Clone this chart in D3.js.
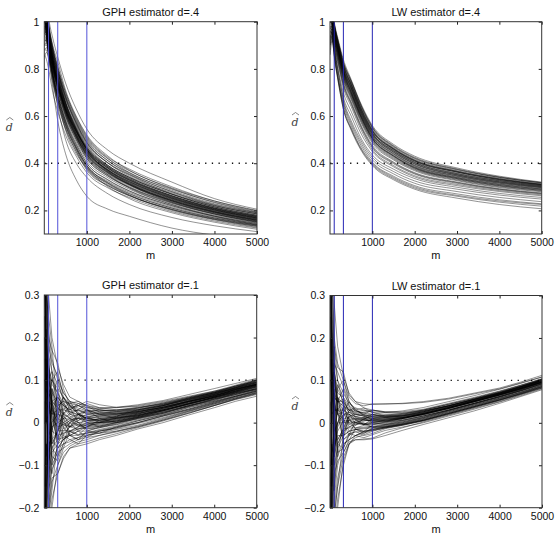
<!DOCTYPE html>
<html><head><meta charset="utf-8">
<script src="https://cdn.jsdelivr.net/npm/d3@7"></script>
<style>body{margin:0;background:#fff}svg{display:block}</style>
</head><body>
<script>
// ---------- DATA ----------
const titles = ["GPH estimator d=.4", "LW estimator d=.4", "GPH estimator d=.1", "LW estimator d=.1"];
const trueD = [0.4, 0.4, 0.1, 0.1];
const bandwidths = [100, 316, 1000];
const xTicks = [1000, 2000, 3000, 4000, 5000];
const yTicksTop = [0.2, 0.4, 0.6, 0.8, 1];
const yTicksBottom = [-0.2, -0.1, 0, 0.1, 0.2, 0.3];
const yDomainTop = [0.1, 1];
const yDomainBottom = [-0.2, 0.3];
const xDomain = [0, 5000];

const mKnots4 = [5, 50, 100, 200, 316, 500, 750, 1000, 1500, 2000, 3000, 4000, 5000];
const mKnots1 = [5, 40, 100, 180, 316, 450, 600, 800, 1000, 1300, 1700, 2200, 2800, 3400, 4000, 4500, 5000];

const gph4 = [
[1.40,1.10,1.02,0.93,0.85,0.74,0.63,0.545,0.455,0.40,0.32,0.25,0.205],
[1.34,1.08,1.00,0.90,0.83,0.71,0.60,0.52,0.43,0.37,0.295,0.24,0.20],
[1.30,1.07,0.99,0.89,0.81,0.70,0.59,0.51,0.42,0.36,0.29,0.235,0.195],
[1.28,1.05,0.98,0.88,0.80,0.68,0.575,0.495,0.41,0.355,0.28,0.225,0.19],
[1.10,1.02,0.97,0.87,0.79,0.68,0.57,0.49,0.40,0.345,0.275,0.22,0.185],
[1.25,1.04,0.96,0.86,0.78,0.67,0.565,0.485,0.40,0.35,0.27,0.215,0.18],
[1.22,1.03,0.955,0.855,0.775,0.66,0.56,0.48,0.39,0.34,0.268,0.215,0.178],
[1.18,1.02,0.95,0.85,0.77,0.655,0.55,0.47,0.385,0.335,0.262,0.21,0.175],
[1.05,1.01,0.945,0.845,0.76,0.65,0.545,0.465,0.38,0.33,0.258,0.207,0.172],
[1.16,1.00,0.94,0.84,0.755,0.645,0.54,0.46,0.378,0.328,0.256,0.205,0.17],
[1.20,1.00,0.935,0.835,0.75,0.64,0.535,0.455,0.374,0.324,0.252,0.202,0.168],
[1.12,0.99,0.93,0.83,0.745,0.635,0.53,0.45,0.37,0.32,0.25,0.20,0.165],
[1.08,0.98,0.925,0.825,0.74,0.63,0.525,0.445,0.366,0.316,0.247,0.197,0.163],
[1.14,0.99,0.92,0.82,0.735,0.625,0.52,0.44,0.362,0.312,0.244,0.195,0.16],
[0.98,0.97,0.915,0.815,0.73,0.62,0.515,0.435,0.358,0.308,0.24,0.192,0.158],
[1.10,0.96,0.91,0.81,0.72,0.61,0.51,0.43,0.354,0.305,0.237,0.19,0.155],
[1.02,0.95,0.90,0.80,0.715,0.605,0.505,0.425,0.35,0.30,0.234,0.187,0.153],
[0.95,0.94,0.895,0.795,0.71,0.60,0.50,0.42,0.345,0.296,0.23,0.184,0.15],
[1.06,0.93,0.89,0.79,0.70,0.59,0.49,0.41,0.338,0.29,0.225,0.18,0.147],
[0.92,0.92,0.88,0.78,0.69,0.58,0.48,0.40,0.33,0.283,0.22,0.176,0.143],
[0.90,0.90,0.87,0.77,0.68,0.57,0.47,0.39,0.322,0.277,0.215,0.172,0.14],
[0.88,0.89,0.86,0.76,0.67,0.56,0.46,0.38,0.315,0.27,0.21,0.168,0.137],
[0.85,0.87,0.85,0.75,0.66,0.55,0.45,0.37,0.305,0.262,0.204,0.163,0.133],
[1.24,1.05,0.97,0.86,0.77,0.65,0.54,0.455,0.37,0.315,0.24,0.19,0.155],
[1.30,1.06,0.98,0.88,0.79,0.66,0.545,0.46,0.365,0.31,0.235,0.185,0.15],
[0.96,0.95,0.90,0.81,0.73,0.63,0.535,0.46,0.385,0.335,0.262,0.21,0.175],
[0.90,0.93,0.89,0.80,0.725,0.625,0.535,0.465,0.39,0.34,0.268,0.215,0.18],
[1.04,0.97,0.93,0.84,0.76,0.655,0.555,0.475,0.39,0.34,0.27,0.22,0.185],
[1.00,0.95,0.86,0.72,0.58,0.44,0.33,0.26,0.205,0.175,0.125,0.095,0.075],
[1.02,0.96,0.88,0.76,0.64,0.50,0.40,0.34,0.27,0.225,0.17,0.135,0.11],
[1.06,0.98,0.90,0.78,0.67,0.54,0.44,0.38,0.30,0.25,0.19,0.15,0.12],
[0.86,0.84,0.80,0.70,0.62,0.52,0.43,0.36,0.295,0.255,0.195,0.155,0.125],
[0.94,0.92,0.87,0.77,0.68,0.565,0.465,0.39,0.315,0.265,0.20,0.16,0.128],
[1.12,1.00,0.94,0.83,0.74,0.615,0.51,0.43,0.35,0.295,0.225,0.175,0.14],
[1.18,1.01,0.935,0.835,0.745,0.635,0.532,0.452,0.372,0.322,0.252,0.202,0.167],
[1.09,0.99,0.925,0.83,0.74,0.628,0.526,0.447,0.368,0.318,0.248,0.199,0.164],
[1.21,1.02,0.945,0.84,0.75,0.64,0.538,0.458,0.378,0.327,0.256,0.205,0.17],
[1.01,0.98,0.92,0.82,0.732,0.622,0.52,0.442,0.363,0.313,0.244,0.195,0.161],
[1.15,1.00,0.93,0.826,0.738,0.626,0.524,0.448,0.37,0.322,0.253,0.203,0.168],
[1.27,1.04,0.96,0.855,0.765,0.652,0.548,0.468,0.384,0.332,0.26,0.208,0.173],
[0.97,0.96,0.905,0.81,0.722,0.615,0.512,0.436,0.358,0.309,0.241,0.193,0.158],
[1.07,0.97,0.91,0.812,0.726,0.614,0.515,0.438,0.36,0.31,0.242,0.194,0.159],
[1.30,1.07,0.99,0.89,0.81,0.70,0.595,0.515,0.425,0.375,0.30,0.24,0.198],
[1.20,1.05,0.975,0.88,0.80,0.69,0.585,0.505,0.418,0.368,0.292,0.233,0.192],
[1.00,1.02,0.96,0.87,0.79,0.685,0.58,0.50,0.41,0.36,0.285,0.228,0.19],
[1.15,1.01,0.95,0.86,0.785,0.675,0.57,0.488,0.402,0.352,0.279,0.222,0.186],
[0.95,0.96,0.92,0.83,0.75,0.64,0.54,0.46,0.38,0.33,0.262,0.21,0.176],
[1.10,0.95,0.90,0.80,0.71,0.60,0.50,0.42,0.345,0.298,0.232,0.185,0.152],
[0.90,0.91,0.87,0.775,0.69,0.58,0.48,0.40,0.328,0.282,0.22,0.176,0.145],
[1.05,0.94,0.88,0.78,0.69,0.575,0.47,0.39,0.318,0.272,0.21,0.168,0.138],
[0.88,0.88,0.84,0.74,0.65,0.545,0.45,0.375,0.305,0.262,0.203,0.162,0.132],
[0.98,0.93,0.87,0.765,0.67,0.56,0.46,0.385,0.31,0.265,0.205,0.165,0.135]
];

const lw4 = [
[1.35,1.06,1.00,0.92,0.84,0.755,0.645,0.56,0.48,0.43,0.38,0.345,0.32],
[1.32,1.05,0.99,0.91,0.83,0.75,0.64,0.555,0.475,0.425,0.376,0.342,0.318],
[1.30,1.05,0.99,0.91,0.825,0.745,0.635,0.55,0.47,0.42,0.372,0.34,0.316],
[1.28,1.04,0.985,0.905,0.82,0.74,0.63,0.545,0.466,0.416,0.368,0.336,0.313],
[1.25,1.04,0.98,0.90,0.815,0.735,0.625,0.54,0.462,0.412,0.365,0.333,0.31],
[1.22,1.03,0.975,0.895,0.81,0.73,0.62,0.535,0.458,0.408,0.362,0.33,0.308],
[1.20,1.03,0.97,0.89,0.805,0.725,0.615,0.53,0.455,0.405,0.358,0.327,0.306],
[1.18,1.02,0.965,0.885,0.80,0.72,0.61,0.527,0.452,0.402,0.355,0.325,0.304],
[1.15,1.02,0.96,0.88,0.795,0.715,0.606,0.524,0.449,0.399,0.352,0.322,0.302],
[1.12,1.01,0.955,0.875,0.79,0.71,0.602,0.52,0.446,0.396,0.35,0.32,0.30],
[1.10,1.01,0.95,0.87,0.785,0.705,0.598,0.516,0.442,0.392,0.347,0.318,0.298],
[1.08,1.00,0.945,0.865,0.78,0.70,0.594,0.512,0.438,0.388,0.344,0.315,0.296],
[1.05,1.00,0.94,0.86,0.775,0.695,0.59,0.508,0.434,0.385,0.341,0.312,0.293],
[1.03,0.99,0.935,0.855,0.77,0.69,0.585,0.504,0.43,0.381,0.338,0.309,0.29],
[1.00,0.99,0.93,0.85,0.765,0.685,0.58,0.50,0.426,0.378,0.335,0.306,0.288],
[0.98,0.98,0.925,0.845,0.76,0.68,0.576,0.496,0.422,0.375,0.332,0.303,0.285],
[1.26,1.04,0.97,0.88,0.79,0.70,0.59,0.505,0.43,0.38,0.335,0.305,0.285],
[0.95,0.97,0.94,0.87,0.795,0.72,0.615,0.535,0.46,0.41,0.363,0.331,0.309],
[0.93,0.97,0.92,0.84,0.75,0.67,0.566,0.486,0.414,0.368,0.326,0.297,0.279],
[0.92,0.96,0.91,0.83,0.74,0.66,0.555,0.476,0.405,0.36,0.32,0.292,0.274],
[0.90,0.95,0.90,0.82,0.73,0.65,0.545,0.466,0.398,0.354,0.315,0.288,0.27],
[0.88,0.94,0.89,0.81,0.72,0.64,0.535,0.458,0.39,0.347,0.31,0.284,0.266],
[0.96,0.95,0.88,0.78,0.68,0.60,0.50,0.435,0.375,0.335,0.298,0.272,0.255],
[1.10,0.98,0.90,0.78,0.67,0.58,0.49,0.425,0.365,0.325,0.29,0.265,0.248],
[1.02,0.96,0.88,0.76,0.66,0.57,0.48,0.415,0.355,0.315,0.28,0.255,0.237],
[0.86,0.92,0.86,0.75,0.65,0.56,0.47,0.405,0.345,0.305,0.27,0.245,0.228],
[0.94,0.93,0.85,0.74,0.63,0.545,0.455,0.395,0.335,0.295,0.26,0.235,0.218],
[1.06,0.96,0.87,0.75,0.64,0.55,0.46,0.40,0.34,0.30,0.264,0.24,0.225],
[0.90,0.93,0.88,0.79,0.70,0.62,0.52,0.45,0.385,0.342,0.305,0.28,0.262],
[0.98,0.94,0.86,0.74,0.63,0.54,0.45,0.39,0.33,0.29,0.252,0.225,0.207],
[1.24,1.035,0.978,0.898,0.812,0.732,0.622,0.537,0.46,0.41,0.363,0.331,0.309],
[1.16,1.025,0.968,0.888,0.802,0.722,0.612,0.528,0.453,0.403,0.356,0.326,0.305],
[1.06,1.005,0.948,0.868,0.782,0.702,0.596,0.514,0.44,0.39,0.346,0.316,0.297],
[1.33,1.05,0.992,0.912,0.828,0.748,0.638,0.552,0.472,0.422,0.374,0.34,0.317],
[1.14,1.015,0.958,0.878,0.792,0.712,0.604,0.522,0.447,0.397,0.351,0.321,0.301],
[1.02,0.995,0.938,0.858,0.772,0.692,0.587,0.506,0.432,0.383,0.339,0.31,0.291],
[0.97,0.975,0.922,0.842,0.756,0.676,0.572,0.492,0.418,0.372,0.329,0.30,0.282],
[0.91,0.955,0.905,0.825,0.735,0.655,0.55,0.47,0.402,0.357,0.318,0.29,0.272],
[1.29,1.045,0.985,0.90,0.815,0.735,0.626,0.541,0.463,0.413,0.366,0.334,0.311]
];

const gph1 = [
[0.55,0.28,0.16,0.12,0.09,0.056,0.042,0.034,0.028,0.026,0.029,0.035,0.046,0.06,0.072,0.086,0.096],
[-0.5,-0.27,-0.16,-0.11,-0.08,-0.05,-0.04,-0.035,-0.03,-0.024,-0.016,-0.006,0.01,0.027,0.044,0.058,0.071],
[0.3,0.18,0.1,0.07,0.05,0.04,0.03,0.028,0.022,0.022,0.025,0.032,0.043,0.057,0.07,0.081,0.093],
[-0.3,-0.16,-0.09,-0.06,-0.04,-0.035,-0.03,-0.02,-0.02,-0.012,-0.005,0.006,0.02,0.035,0.05,0.064,0.076],
[0.7,0.35,0.22,0.15,0.1,0.07,0.05,0.04,0.035,0.033,0.036,0.042,0.052,0.066,0.08,0.092,0.104],
[-0.7,-0.36,-0.22,-0.14,-0.1,-0.07,-0.055,-0.045,-0.04,-0.03,-0.02,-0.01,0.006,0.022,0.04,0.054,0.066],
[0.1,0.05,0.03,0.02,0.02,0.01,0.008,0.01,0.006,0.01,0.014,0.024,0.036,0.05,0.066,0.078,0.09],
[-0.1,-0.06,-0.03,-0.01,0.0,-0.005,-0.01,-0.006,-0.008,-0.002,0.004,0.014,0.028,0.042,0.058,0.07,0.082],
[0.2,0.12,0.07,0.05,0.035,0.02,0.012,0.02,0.014,0.016,0.02,0.028,0.04,0.054,0.066,0.08,0.09],
[-0.2,-0.12,-0.07,-0.04,-0.02,-0.018,-0.02,-0.015,-0.012,-0.008,0.0,0.012,0.024,0.04,0.055,0.068,0.08],
[0.45,0.22,0.12,0.09,0.07,0.045,0.025,0.018,0.01,0.004,0.008,0.016,0.028,0.044,0.06,0.074,0.086],
[-0.45,-0.2,-0.12,-0.07,-0.05,-0.025,-0.01,0.0,0.004,0.008,0.014,0.022,0.034,0.048,0.062,0.075,0.088],
[0.0,0.08,0.05,0.04,0.06,0.04,0.02,0.01,0.0,0.0,0.006,0.016,0.03,0.046,0.06,0.072,0.084],
[0.0,-0.08,-0.05,-0.04,-0.06,-0.04,-0.025,-0.015,-0.005,0.002,0.01,0.02,0.032,0.048,0.064,0.078,0.09],
[0.6,0.3,0.18,0.14,0.11,0.07,0.05,0.045,0.04,0.035,0.035,0.04,0.05,0.062,0.074,0.085,0.098],
[-0.6,-0.3,-0.2,-0.13,-0.12,-0.085,-0.06,-0.055,-0.05,-0.04,-0.03,-0.015,0.0,0.018,0.035,0.05,0.062],
[0.15,0.1,0.05,0.01,-0.01,-0.005,0.005,0.01,0.012,0.012,0.016,0.026,0.038,0.052,0.068,0.082,0.094],
[-0.15,-0.1,-0.04,0.0,0.02,0.015,0.0,-0.005,-0.004,0.0,0.006,0.016,0.03,0.044,0.058,0.072,0.085],
[0.35,0.2,0.13,0.1,0.08,0.06,0.045,0.04,0.03,0.028,0.03,0.036,0.044,0.058,0.072,0.083,0.095],
[-0.35,-0.22,-0.14,-0.09,-0.06,-0.04,-0.03,-0.03,-0.025,-0.018,-0.01,0.0,0.015,0.03,0.046,0.06,0.074],
[0.05,0.0,0.02,0.03,0.01,0.0,-0.01,-0.015,-0.01,-0.006,0.002,0.012,0.026,0.04,0.056,0.068,0.08],
[0.25,0.15,0.08,0.03,0.0,0.01,0.02,0.015,0.018,0.018,0.022,0.03,0.04,0.055,0.068,0.079,0.091],
[-0.25,-0.14,-0.06,-0.02,0.03,0.03,0.025,0.02,0.01,0.006,0.01,0.018,0.03,0.045,0.06,0.073,0.086],
[0.4,0.18,0.06,-0.02,-0.03,-0.025,-0.02,-0.01,-0.006,-0.004,0.004,0.014,0.028,0.043,0.058,0.071,0.083],
[-0.4,-0.18,-0.08,-0.02,0.04,0.05,0.04,0.03,0.025,0.02,0.02,0.026,0.036,0.05,0.064,0.077,0.089],
[0.8,0.4,0.2,0.17,0.14,0.08,0.04,0.02,0.01,0.006,0.01,0.018,0.03,0.045,0.06,0.074,0.087],
[-0.8,-0.42,-0.25,-0.18,-0.12,-0.08,-0.06,-0.05,-0.045,-0.036,-0.026,-0.012,0.004,0.022,0.04,0.055,0.068],
[0.1,0.02,-0.03,-0.05,-0.02,0.0,0.01,0.0,-0.002,0.002,0.008,0.018,0.03,0.044,0.06,0.072,0.085],
[0.5,0.1,0.15,0.05,-0.02,0.03,0.05,0.02,0.03,0.01,0.0,0.01,0.025,0.04,0.052,0.07,0.08],
[-0.5,-0.05,-0.12,0.02,0.05,0.01,-0.03,-0.04,-0.02,-0.025,-0.01,0.004,0.018,0.036,0.05,0.062,0.076],
[0.3,0.25,0.05,0.1,0.07,0.02,-0.01,0.01,0.03,0.02,0.01,0.02,0.038,0.05,0.062,0.078,0.092],
[-0.3,-0.2,0.05,-0.08,-0.09,-0.05,0.0,0.02,0.0,-0.01,0.0,0.008,0.022,0.038,0.055,0.066,0.08],
[0.9,0.2,-0.1,0.08,0.0,-0.04,-0.03,-0.04,-0.035,-0.02,-0.012,0.0,0.016,0.03,0.046,0.061,0.072],
[-0.9,0.1,0.12,0.03,0.06,0.04,0.03,0.045,0.035,0.03,0.024,0.028,0.04,0.053,0.067,0.082,0.1],
[0.2,-0.15,0.08,0.06,-0.04,0.02,0.01,-0.01,0.015,0.0,0.012,0.016,0.034,0.046,0.064,0.074,0.088],
[0.6,0.3,0.25,0.18,0.02,0.06,0.035,0.0,-0.02,-0.01,-0.004,0.01,0.022,0.04,0.056,0.069,0.078],
[-0.6,-0.3,-0.2,-0.1,-0.07,-0.06,-0.02,-0.03,-0.01,0.006,0.015,0.03,0.042,0.056,0.07,0.08,0.094],
[0.0,0.15,-0.15,-0.02,0.08,0.02,0.04,0.02,0.008,0.015,0.018,0.022,0.032,0.05,0.062,0.076,0.09],
[0.65,-0.1,0.2,0.12,0.04,0.05,0.045,0.05,0.04,0.03,0.028,0.034,0.044,0.056,0.07,0.084,0.098],
[-0.65,0.15,-0.18,-0.06,-0.02,0.02,0.035,0.04,0.05,0.042,0.036,0.038,0.048,0.06,0.074,0.088,0.102],
[0.4,0.3,-0.05,0.06,0.1,0.05,0.02,0.03,0.045,0.035,0.03,0.03,0.04,0.058,0.07,0.086,0.1],
[-0.4,-0.3,0.1,-0.1,0.02,-0.03,-0.01,0.02,0.025,0.03,0.026,0.03,0.042,0.054,0.068,0.082,0.096],
[1.0,0.5,0.3,0.2,0.13,0.09,0.06,0.05,0.038,0.025,0.022,0.026,0.036,0.05,0.064,0.077,0.09],
[-1.0,-0.5,-0.3,-0.2,-0.1,-0.06,-0.05,-0.04,-0.03,-0.02,-0.014,-0.002,0.012,0.028,0.044,0.058,0.07],
[0.2,0.1,0.16,0.02,-0.05,-0.04,-0.02,-0.028,-0.024,-0.016,-0.008,0.004,0.018,0.032,0.048,0.062,0.074],
[-0.2,-0.05,-0.1,0.08,0.03,-0.015,0.0,0.012,0.005,0.0,0.004,0.012,0.024,0.038,0.052,0.066,0.078],
[0.7,0.12,0.0,-0.06,-0.08,-0.03,-0.04,-0.05,-0.03,-0.025,-0.02,-0.008,0.008,0.026,0.042,0.056,0.068],
[-0.7,-0.2,0.0,0.1,0.12,0.06,0.03,0.04,0.03,0.02,0.02,0.026,0.036,0.052,0.066,0.079,0.092],
[0.35,0.05,-0.08,0.0,0.04,0.0,-0.02,-0.01,0.0,0.01,0.012,0.02,0.034,0.05,0.063,0.078,0.09],
[-0.35,0.05,0.08,-0.05,-0.02,0.025,0.01,0.0,-0.015,-0.012,-0.002,0.01,0.022,0.038,0.054,0.066,0.078],
[0.5,0.35,0.12,-0.04,0.02,0.035,0.015,0.005,0.02,0.024,0.02,0.024,0.036,0.05,0.066,0.081,0.094],
[-0.5,-0.35,-0.15,0.05,-0.04,-0.02,0.0,-0.02,-0.035,-0.03,-0.022,-0.01,0.006,0.024,0.04,0.056,0.07],
[0.1,0.22,0.1,0.12,0.0,0.045,0.025,0.03,0.02,0.015,0.016,0.024,0.04,0.055,0.07,0.083,0.096],
[-0.1,-0.25,-0.06,-0.12,-0.05,-0.01,-0.03,-0.02,-0.01,0.0,0.002,0.014,0.028,0.044,0.058,0.07,0.084],
[0.85,0.45,0.1,0.05,0.06,-0.01,0.005,-0.005,-0.015,-0.008,0.0,0.012,0.028,0.044,0.06,0.074,0.088],
[-0.85,-0.45,-0.22,-0.16,-0.04,0.01,-0.01,0.005,0.012,0.02,0.026,0.034,0.046,0.058,0.072,0.086,0.1],
[0.25,0.0,0.14,0.02,0.03,0.06,0.04,0.025,0.005,0.005,0.012,0.022,0.034,0.048,0.062,0.076,0.088],
[-0.25,0.2,-0.02,0.04,-0.06,-0.05,-0.045,-0.035,-0.025,-0.02,-0.012,0.0,0.016,0.032,0.048,0.062,0.074]
];

const lw1 = [
[0.5,0.28,0.15,0.1,0.07,0.045,0.035,0.03,0.026,0.024,0.028,0.036,0.05,0.064,0.079,0.093,0.108],
[-0.5,-0.28,-0.15,-0.08,-0.04,-0.025,-0.022,-0.02,-0.018,-0.012,-0.004,0.006,0.022,0.038,0.054,0.068,0.084],
[0.3,0.16,0.09,0.06,0.045,0.03,0.02,0.018,0.016,0.016,0.02,0.03,0.044,0.058,0.074,0.088,0.103],
[-0.3,-0.16,-0.08,-0.04,-0.015,-0.012,-0.012,-0.01,-0.008,-0.004,0.002,0.012,0.028,0.044,0.06,0.075,0.09],
[0.7,0.4,0.2,0.14,0.1,0.06,0.045,0.04,0.045,0.044,0.046,0.05,0.058,0.07,0.082,0.096,0.112],
[-0.7,-0.4,-0.22,-0.15,-0.08,-0.05,-0.04,-0.038,-0.036,-0.024,-0.012,0.002,0.018,0.034,0.05,0.066,0.082],
[0.1,0.06,0.03,0.03,0.03,0.02,0.01,0.008,0.006,0.008,0.012,0.022,0.036,0.052,0.068,0.082,0.098],
[-0.1,-0.06,-0.02,0.0,0.0,0.0,0.0,-0.002,0.0,0.002,0.008,0.018,0.032,0.048,0.064,0.078,0.094],
[0.2,0.12,0.07,0.05,0.04,0.025,0.015,0.012,0.01,0.012,0.016,0.026,0.04,0.055,0.071,0.085,0.1],
[-0.2,-0.12,-0.06,-0.02,0.005,0.005,0.0,-0.004,-0.004,-0.002,0.005,0.016,0.03,0.046,0.062,0.076,0.092],
[0.45,0.25,0.12,0.08,0.05,0.03,0.012,0.006,0.004,0.004,0.01,0.02,0.035,0.05,0.066,0.081,0.096],
[-0.45,-0.25,-0.12,-0.05,-0.02,-0.01,-0.004,-0.002,0.002,0.004,0.01,0.02,0.034,0.05,0.066,0.08,0.096],
[0.0,0.1,0.06,0.05,0.055,0.035,0.022,0.015,0.01,0.008,0.012,0.022,0.036,0.052,0.068,0.082,0.098],
[0.0,-0.1,-0.06,-0.03,-0.03,-0.02,-0.015,-0.012,-0.01,-0.006,0.0,0.01,0.026,0.042,0.058,0.072,0.088],
[0.6,0.34,0.18,0.13,0.12,0.065,0.05,0.045,0.043,0.045,0.045,0.048,0.056,0.068,0.08,0.094,0.108],
[-0.6,-0.35,-0.2,-0.13,-0.07,-0.045,-0.04,-0.04,-0.038,-0.03,-0.018,-0.004,0.012,0.028,0.046,0.062,0.078],
[0.15,0.08,0.04,0.02,0.01,0.012,0.008,0.006,0.005,0.006,0.011,0.021,0.036,0.051,0.067,0.081,0.097],
[-0.15,-0.08,-0.03,0.0,0.02,0.02,0.014,0.01,0.008,0.009,0.014,0.024,0.038,0.053,0.069,0.083,0.099],
[0.35,0.2,0.11,0.07,0.06,0.04,0.028,0.022,0.018,0.018,0.022,0.03,0.043,0.057,0.072,0.086,0.101],
[-0.35,-0.2,-0.1,-0.06,-0.03,-0.02,-0.016,-0.014,-0.012,-0.008,-0.002,0.008,0.024,0.04,0.056,0.071,0.086],
[0.05,0.02,0.03,0.03,0.02,0.01,0.0,-0.004,-0.002,0.0,0.006,0.016,0.03,0.046,0.062,0.076,0.092],
[0.25,0.12,0.05,0.02,0.0,0.005,0.01,0.012,0.012,0.014,0.018,0.028,0.041,0.056,0.072,0.086,0.102],
[-0.25,-0.14,-0.06,-0.01,0.02,0.025,0.02,0.016,0.014,0.013,0.017,0.026,0.04,0.055,0.07,0.084,0.1],
[-0.4,-0.22,-0.12,-0.09,-0.07,-0.04,-0.03,-0.022,-0.016,-0.01,-0.003,0.008,0.024,0.04,0.057,0.072,0.088],
[0.4,0.22,0.14,0.12,0.085,0.05,0.03,0.02,0.014,0.01,0.012,0.02,0.034,0.05,0.066,0.08,0.095],
[-0.8,-0.45,-0.25,-0.18,-0.1,-0.05,-0.03,-0.02,-0.015,-0.01,-0.004,0.006,0.022,0.038,0.055,0.07,0.086],
[0.5,0.1,0.12,0.06,0.0,0.03,0.035,0.015,0.02,0.012,0.012,0.02,0.034,0.05,0.065,0.079,0.095],
[-0.5,-0.05,-0.1,0.0,0.04,0.01,-0.015,-0.025,-0.012,-0.01,-0.002,0.01,0.026,0.042,0.058,0.073,0.089],
[0.3,0.22,0.04,0.09,0.06,0.02,0.0,0.008,0.02,0.014,0.014,0.024,0.038,0.053,0.069,0.084,0.1],
[-0.3,-0.2,0.04,-0.07,-0.06,-0.03,0.005,0.012,0.0,-0.004,0.004,0.014,0.03,0.046,0.062,0.078,0.094],
[0.9,0.2,-0.08,0.06,0.0,-0.03,-0.02,-0.03,-0.025,-0.014,-0.006,0.005,0.02,0.036,0.053,0.068,0.083],
[-0.9,0.1,0.1,0.03,0.05,0.03,0.025,0.03,0.024,0.02,0.02,0.028,0.04,0.055,0.07,0.085,0.102],
[0.2,-0.15,0.06,0.05,-0.03,0.015,0.008,-0.005,0.01,0.004,0.01,0.02,0.034,0.05,0.066,0.08,0.096],
[-0.6,-0.3,-0.18,-0.1,-0.05,-0.04,-0.015,-0.02,-0.005,0.002,0.01,0.022,0.036,0.052,0.068,0.083,0.099],
[0.65,-0.1,0.18,0.1,0.04,0.03,0.03,0.035,0.03,0.026,0.026,0.032,0.046,0.06,0.075,0.089,0.104],
[-0.65,0.15,-0.16,-0.05,-0.02,0.015,0.02,0.025,0.03,0.026,0.024,0.03,0.044,0.058,0.073,0.088,0.103],
[0.4,0.3,-0.05,0.05,0.08,0.04,0.015,0.02,0.03,0.024,0.022,0.028,0.04,0.055,0.07,0.085,0.1],
[-0.4,-0.3,0.08,-0.08,0.01,-0.02,-0.005,0.01,0.015,0.016,0.016,0.024,0.038,0.052,0.068,0.082,0.097],
[1.0,0.5,0.28,0.18,0.11,0.07,0.05,0.035,0.025,0.016,0.016,0.022,0.035,0.05,0.066,0.08,0.095],
[-1.0,-0.5,-0.3,-0.2,-0.09,-0.05,-0.035,-0.028,-0.02,-0.012,-0.006,0.004,0.02,0.036,0.052,0.067,0.082],
[0.2,0.1,0.14,0.02,-0.04,-0.03,-0.015,-0.02,-0.016,-0.01,-0.004,0.006,0.022,0.038,0.054,0.069,0.085],
[-0.2,-0.05,-0.08,0.06,0.025,-0.01,0.0,0.008,0.004,0.002,0.006,0.016,0.03,0.046,0.062,0.077,0.093],
[0.7,0.12,0.0,-0.05,-0.06,-0.025,-0.03,-0.035,-0.028,-0.018,-0.01,0.0,0.016,0.032,0.049,0.064,0.08],
[-0.7,-0.2,0.0,0.08,0.1,0.05,0.025,0.025,0.02,0.016,0.018,0.026,0.04,0.055,0.07,0.085,0.1],
[0.35,0.05,-0.07,0.0,0.035,0.0,-0.012,-0.006,0.0,0.006,0.01,0.02,0.034,0.05,0.065,0.08,0.096],
[-0.35,0.05,0.07,-0.04,-0.015,0.02,0.008,0.0,-0.01,-0.008,0.0,0.012,0.028,0.044,0.06,0.075,0.091],
[0.85,0.45,0.1,0.05,0.05,-0.005,0.005,-0.004,-0.01,-0.005,0.002,0.013,0.029,0.045,0.061,0.076,0.092],
[-0.85,-0.45,-0.22,-0.15,-0.035,0.008,-0.006,0.004,0.008,0.012,0.016,0.026,0.04,0.055,0.071,0.086,0.102],
[0.25,0.0,0.12,0.02,0.025,0.05,0.03,0.018,0.006,0.006,0.012,0.022,0.036,0.052,0.067,0.082,0.098],
[-0.25,0.2,-0.02,0.035,-0.05,-0.04,-0.03,-0.024,-0.018,-0.012,-0.005,0.006,0.022,0.038,0.054,0.069,0.085]
];

// ---------- LAYOUT ----------
const W = 560, H = 535;
const panels = [
  {curves: gph4, knots: mKnots4, smooth: true,  left: 44.3, right: 257,   top: 21.7,  bottom: 234,   yDom: yDomainTop,    yTicks: yTicksTop,    blue: "#5252d8", labelY: 131},
  {curves: lw4,  knots: mKnots4, smooth: true,  left: 330,  right: 541.7, top: 21.7,  bottom: 234,   yDom: yDomainTop,    yTicks: yTicksTop,    blue: "#2626b4", labelY: 126},
  {curves: gph1, knots: mKnots1, smooth: false, left: 44.3, right: 256.7, top: 295,   bottom: 507.7, yDom: yDomainBottom, yTicks: yTicksBottom, blue: "#5252d8", labelY: 416},
  {curves: lw1,  knots: mKnots1, smooth: false, left: 330,  right: 542,   top: 295.5, bottom: 507.7, yDom: yDomainBottom, yTicks: yTicksBottom, blue: "#2626b4", labelY: 410}
];

const FONT = "'Liberation Sans', Arial, Helvetica, sans-serif";
const svg = d3.select("body").append("svg").attr("width", W).attr("height", H)
  .style("font-family", FONT);

const fmt = d => d === 0 ? "0" : (d < 0 ? "\u2212" : "") + String(Math.abs(d));

panels.forEach((p, i) => {
  const x = d3.scaleLinear().domain(xDomain).range([p.left, p.right]);
  const y = d3.scaleLinear().domain(p.yDom).range([p.bottom, p.top]);
  const g = svg.append("g");
  const clipId = "clip" + i;
  svg.append("clipPath").attr("id", clipId).append("rect")
    .attr("x", p.left).attr("y", p.top).attr("width", p.right - p.left).attr("height", p.bottom - p.top);

  const plot = g.append("g").attr("clip-path", `url(#${clipId})`);

  // dotted true-d line
  plot.append("line")
    .attr("x1", x(xDomain[0])).attr("x2", x(xDomain[1]))
    .attr("y1", y(trueD[i])).attr("y2", y(trueD[i]))
    .attr("stroke", "#111").attr("stroke-width", 1.3).attr("stroke-dasharray", "1.3,5.4");

  const line = d3.line().x((d, k) => x(p.knots[k])).y(d => y(d))
    .curve(p.smooth ? d3.curveMonotoneX : d3.curveLinear);
  plot.selectAll("path.sim").data(p.curves).join("path")
    .attr("class", "sim")
    .attr("d", line)
    .attr("fill", "none")
    .attr("stroke", "#000")
    .attr("stroke-opacity", 0.5)
    .attr("stroke-width", 0.85);

  // bandwidth lines
  plot.selectAll("line.bw").data(bandwidths).join("line")
    .attr("class", "bw")
    .attr("x1", d => x(d)).attr("x2", d => x(d))
    .attr("y1", p.top).attr("y2", p.bottom)
    .attr("stroke", p.blue).attr("stroke-width", 1);

  // axes with inward ticks
  const axStyle = sel => {
    sel.select(".domain").remove();
    sel.selectAll(".tick line").attr("stroke", "#222");
    sel.selectAll(".tick text").attr("fill", "#111").style("font-family", FONT).style("font-size", "10.5px");
  };
  g.append("g").attr("transform", `translate(${p.left},0)`)
    .call(d3.axisLeft(y).tickValues(p.yTicks).tickFormat(fmt).tickSizeInner(-3).tickSizeOuter(0).tickPadding(5))
    .call(axStyle);
  g.append("g").attr("transform", `translate(${p.right},0)`)
    .call(d3.axisRight(y).tickValues(p.yTicks).tickFormat("").tickSizeInner(-3).tickSizeOuter(0))
    .call(axStyle);
  g.append("g").attr("transform", `translate(0,${p.bottom})`)
    .call(d3.axisBottom(x).tickValues(xTicks).tickFormat(d3.format("d")).tickSizeInner(-3).tickSizeOuter(0).tickPadding(5))
    .call(axStyle);
  g.append("g").attr("transform", `translate(0,${p.top})`)
    .call(d3.axisTop(x).tickValues(xTicks).tickFormat("").tickSizeInner(-3).tickSizeOuter(0))
    .call(axStyle);

  // frame
  g.append("rect").attr("x", p.left).attr("y", p.top)
    .attr("width", p.right - p.left).attr("height", p.bottom - p.top)
    .attr("fill", "none").attr("stroke", "#333").attr("stroke-width", 1);

  // title
  g.append("text").attr("x", (p.left + p.right) / 2).attr("y", p.top - 6)
    .attr("text-anchor", "middle").attr("font-size", 11).attr("fill", "#111").text(titles[i]);
  // x label
  g.append("text").attr("x", (p.left + p.right) / 2).attr("y", p.bottom + 25)
    .attr("text-anchor", "middle").attr("font-size", 11).attr("fill", "#111").text("m");
  // y label: italic d with a hat above it
  const lx = p.left - 35;
  g.append("text").attr("x", lx).attr("y", p.labelY)
    .attr("text-anchor", "middle")
    .style("font-family", "'DejaVu Serif', 'Liberation Serif', serif")
    .style("font-style", "italic").attr("font-size", 11).attr("fill", "#444")
    .text("d");
  g.append("path")
    .attr("d", `M${lx - 3},${p.labelY - 11} L${lx + 0.5},${p.labelY - 13.5} L${lx + 4},${p.labelY - 11}`)
    .attr("fill", "none").attr("stroke", "#555").attr("stroke-width", 0.7);
});
</script>
</body></html>
